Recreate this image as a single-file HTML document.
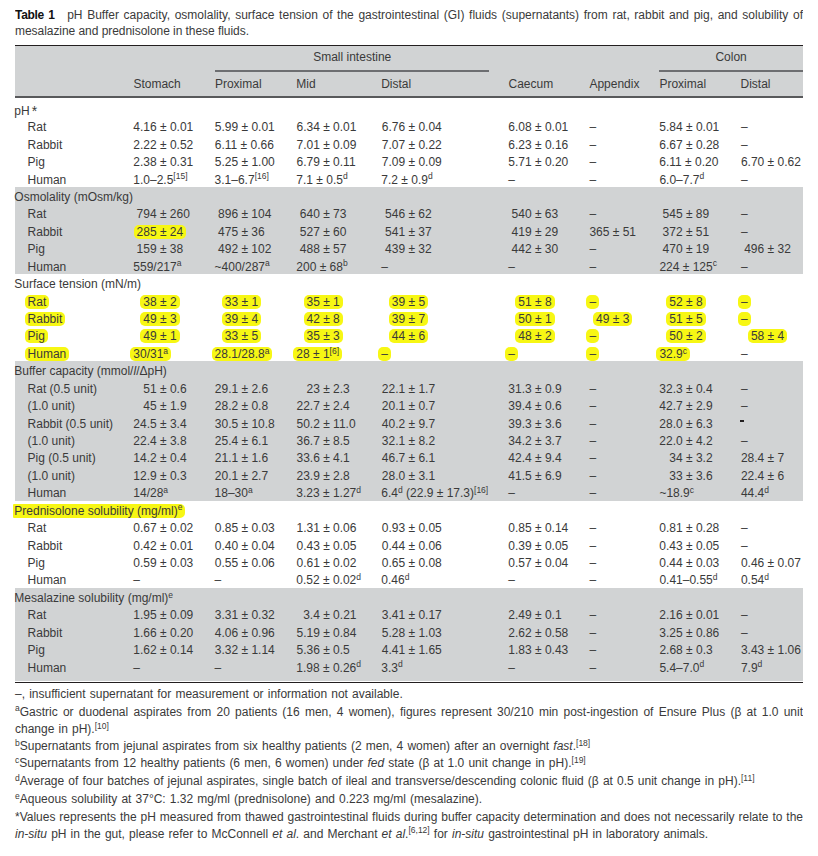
<!DOCTYPE html>
<html><head><meta charset="utf-8">
<style>
html,body{margin:0;padding:0;background:#fff;}
body{width:818px;height:856px;position:relative;overflow:hidden;font-family:"Liberation Sans",Arial,sans-serif;font-size:12px;color:#3a3a3a;}
.t,.ta{position:absolute;white-space:nowrap;line-height:14px;height:14px;}
.ta .pre{position:absolute;right:100%;white-space:pre;}
sup{font-size:8.5px;line-height:0;vertical-align:0;position:relative;top:-4.3px;}
.hl{background:#f7f714;border-radius:5px;padding:0 3px;margin:0 -3px;}
.band{position:absolute;left:15px;width:788px;background:#d1d3d4;}
.rule{position:absolute;}
.hy{position:absolute;width:4px;height:2px;background:#231f20;}
.fn{position:absolute;left:15px;white-space:nowrap;line-height:14px;height:14px;word-spacing:0.8px;}
.fn.j{word-spacing:0;}
.j{width:788px;height:14px;overflow:hidden;text-align:justify;text-align-last:justify;white-space:normal;}
.cap{position:absolute;left:15px;white-space:nowrap;line-height:14px;height:14px;}
b{font-weight:bold;color:#111;}
</style></head><body>
<div class="cap j" style="top:7.7px"><b style="letter-spacing:-0.3px">Table 1</b><span style="display:inline-block;width:12.5px"></span>pH Buffer capacity, osmolality, surface tension of the gastrointestinal (GI) fluids (supernatants) from rat, rabbit and pig, and solubility of</div>
<div class="cap" style="top:24.3px;letter-spacing:-0.05px">mesalazine and prednisolone in these fluids.</div>

<div class="band" style="top:46px;height:51px;"></div>
<div class="rule" style="left:15px;width:788px;top:45px;height:1.3px;background:#231f20"></div>
<div class="rule" style="left:214.7px;width:274.2px;top:70px;height:1.5px;background:#6d6e71"></div>
<div class="rule" style="left:659.4px;width:143.6px;top:70px;height:1.5px;background:#6d6e71"></div>
<div class="rule" style="left:15px;width:788px;top:96.2px;height:1.5px;background:#58595b"></div>

<div class="t" style="left:313.2px;top:49.8px">Small intestine</div>
<div class="t" style="left:715.4px;top:49.8px">Colon</div>
<div class="t" style="left:133.4px;top:76.7px">Stomach</div>
<div class="t" style="left:214.9px;top:76.7px">Proximal</div>
<div class="t" style="left:296.3px;top:76.7px">Mid</div>
<div class="t" style="left:381.2px;top:76.7px">Distal</div>
<div class="t" style="left:508.5px;top:76.7px">Caecum</div>
<div class="t" style="left:589.4px;top:76.7px">Appendix</div>
<div class="t" style="left:659.4px;top:76.7px">Proximal</div>
<div class="t" style="left:740.5px;top:76.7px">Distal</div>

<div class="band" style="top:187.3px;height:86.6px;"></div>
<div class="band" style="top:361.2px;height:139.4px;"></div>
<div class="band" style="top:588.1px;height:93.3px;"></div>
<div class="rule" style="left:15px;width:788px;top:681.8px;height:1.4px;background:#231f20"></div>

<div class="t" style="left:14.3px;top:102.8px">pH<span style="font-size:14px;margin-left:2px;position:relative;top:1px">*</span></div>
<div class="t" style="left:27.6px;top:120.2px">Rat</div>
<div class="t" style="left:133.3px;top:120.2px">4.16 ± 0.01</div>
<div class="t" style="left:214.8px;top:120.2px">5.99 ± 0.01</div>
<div class="t" style="left:296.5px;top:120.2px">6.34 ± 0.01</div>
<div class="t" style="left:381.8px;top:120.2px">6.76 ± 0.04</div>
<div class="t" style="left:508.3px;top:120.2px">6.08 ± 0.01</div>
<div class="t" style="left:589.4px;top:120.2px">–</div>
<div class="t" style="left:659.3px;top:120.2px">5.84 ± 0.01</div>
<div class="t" style="left:740.9px;top:120.2px">–</div>
<div class="t" style="left:27.6px;top:137.7px">Rabbit</div>
<div class="t" style="left:133.3px;top:137.7px">2.22 ± 0.52</div>
<div class="t" style="left:214.8px;top:137.7px">6.11 ± 0.66</div>
<div class="t" style="left:296.5px;top:137.7px">7.01 ± 0.09</div>
<div class="t" style="left:381.8px;top:137.7px">7.07 ± 0.22</div>
<div class="t" style="left:508.3px;top:137.7px">6.23 ± 0.16</div>
<div class="t" style="left:589.4px;top:137.7px">–</div>
<div class="t" style="left:659.3px;top:137.7px">6.67 ± 0.28</div>
<div class="t" style="left:740.9px;top:137.7px">–</div>
<div class="t" style="left:27.6px;top:155.1px">Pig</div>
<div class="t" style="left:133.3px;top:155.1px">2.38 ± 0.31</div>
<div class="t" style="left:214.8px;top:155.1px">5.25 ± 1.00</div>
<div class="t" style="left:296.5px;top:155.1px">6.79 ± 0.11</div>
<div class="t" style="left:381.8px;top:155.1px">7.09 ± 0.09</div>
<div class="t" style="left:508.3px;top:155.1px">5.71 ± 0.20</div>
<div class="t" style="left:589.4px;top:155.1px">–</div>
<div class="t" style="left:659.3px;top:155.1px">6.11 ± 0.20</div>
<div class="t" style="left:740.9px;top:155.1px">6.70 ± 0.62</div>
<div class="t" style="left:27.6px;top:172.5px">Human</div>
<div class="t" style="left:133.3px;top:172.5px">1.0–2.5<sup>[15]</sup></div>
<div class="t" style="left:214.6px;top:172.5px">3.1–6.7<sup>[16]</sup></div>
<div class="t" style="left:296.3px;top:172.5px">7.1 ± 0.5<sup>d</sup></div>
<div class="t" style="left:381.3px;top:172.5px">7.2 ± 0.9<sup>d</sup></div>
<div class="t" style="left:508.3px;top:172.5px">–</div>
<div class="t" style="left:589.4px;top:172.5px">–</div>
<div class="t" style="left:659.4px;top:172.5px">6.0–7.7<sup>d</sup></div>
<div class="t" style="left:740.9px;top:172.5px">–</div>
<div class="t" style="left:14.3px;top:189.9px">Osmolality (mOsm/kg)</div>
<div class="t" style="left:27.6px;top:207.4px">Rat</div>
<div class="t" style="left:136.6px;top:207.4px">794 ± 260</div>
<div class="t" style="left:218.1px;top:207.4px">896 ± 104</div>
<div class="t" style="left:299.8px;top:207.4px">640 ± 73</div>
<div class="t" style="left:385.1px;top:207.4px">546 ± 62</div>
<div class="t" style="left:511.6px;top:207.4px">540 ± 63</div>
<div class="t" style="left:589.4px;top:207.4px">–</div>
<div class="t" style="left:662.6px;top:207.4px">545 ± 89</div>
<div class="t" style="left:740.9px;top:207.4px">–</div>
<div class="t" style="left:27.6px;top:224.8px">Rabbit</div>
<div class="t" style="left:136.6px;top:224.8px"><span class="hl">285 ± 24</span></div>
<div class="t" style="left:218.1px;top:224.8px">475 ± 36</div>
<div class="t" style="left:299.8px;top:224.8px">527 ± 60</div>
<div class="t" style="left:385.1px;top:224.8px">541 ± 37</div>
<div class="t" style="left:511.6px;top:224.8px">419 ± 29</div>
<div class="t" style="left:589.4px;top:224.8px">365 ± 51</div>
<div class="t" style="left:662.6px;top:224.8px">372 ± 51</div>
<div class="t" style="left:740.9px;top:224.8px">–</div>
<div class="t" style="left:27.6px;top:242.2px">Pig</div>
<div class="t" style="left:136.6px;top:242.2px">159 ± 38</div>
<div class="t" style="left:218.1px;top:242.2px">492 ± 102</div>
<div class="t" style="left:299.8px;top:242.2px">488 ± 57</div>
<div class="t" style="left:385.1px;top:242.2px">439 ± 32</div>
<div class="t" style="left:511.6px;top:242.2px">442 ± 30</div>
<div class="t" style="left:589.4px;top:242.2px">–</div>
<div class="t" style="left:662.6px;top:242.2px">470 ± 19</div>
<div class="t" style="left:744.2px;top:242.2px">496 ± 32</div>
<div class="t" style="left:27.6px;top:259.7px">Human</div>
<div class="t" style="left:133.3px;top:259.7px">559/217<sup>a</sup></div>
<div class="t" style="left:214.6px;top:259.7px">~400/287<sup>a</sup></div>
<div class="t" style="left:296.3px;top:259.7px">200 ± 68<sup>b</sup></div>
<div class="t" style="left:381.3px;top:259.7px">–</div>
<div class="t" style="left:508.3px;top:259.7px">–</div>
<div class="t" style="left:589.4px;top:259.7px">–</div>
<div class="t" style="left:659.4px;top:259.7px">224 ± 125<sup>c</sup></div>
<div class="t" style="left:740.9px;top:259.7px">–</div>
<div class="t" style="left:14.3px;top:277.1px">Surface tension (mN/m)</div>
<div class="t" style="left:27.6px;top:294.5px"><span class="hl">Rat</span></div>
<div class="t" style="left:143.3px;top:294.5px"><span class="hl">38 ± 2</span></div>
<div class="t" style="left:224.8px;top:294.5px"><span class="hl">33 ± 1</span></div>
<div class="t" style="left:306.5px;top:294.5px"><span class="hl">35 ± 1</span></div>
<div class="t" style="left:391.8px;top:294.5px"><span class="hl">39 ± 5</span></div>
<div class="t" style="left:518.3px;top:294.5px"><span class="hl">51 ± 8</span></div>
<div class="t" style="left:589.4px;top:294.5px"><span class="hl">–</span></div>
<div class="t" style="left:669.3px;top:294.5px"><span class="hl">52 ± 8</span></div>
<div class="t" style="left:740.9px;top:294.5px"><span class="hl">–</span></div>
<div class="t" style="left:27.6px;top:312.0px"><span class="hl">Rabbit</span></div>
<div class="t" style="left:143.3px;top:312.0px"><span class="hl">49 ± 3</span></div>
<div class="t" style="left:224.8px;top:312.0px"><span class="hl">39 ± 4</span></div>
<div class="t" style="left:306.5px;top:312.0px"><span class="hl">42 ± 8</span></div>
<div class="t" style="left:391.8px;top:312.0px"><span class="hl">39 ± 7</span></div>
<div class="t" style="left:518.3px;top:312.0px"><span class="hl">50 ± 1</span></div>
<div class="t" style="left:596.1px;top:312.0px"><span class="hl">49 ± 3</span></div>
<div class="t" style="left:669.3px;top:312.0px"><span class="hl">51 ± 5</span></div>
<div class="t" style="left:740.9px;top:312.0px"><span class="hl">–</span></div>
<div class="t" style="left:27.6px;top:329.4px"><span class="hl">Pig</span></div>
<div class="t" style="left:143.3px;top:329.4px"><span class="hl">49 ± 1</span></div>
<div class="t" style="left:224.8px;top:329.4px"><span class="hl">33 ± 5</span></div>
<div class="t" style="left:306.5px;top:329.4px"><span class="hl">35 ± 3</span></div>
<div class="t" style="left:391.8px;top:329.4px"><span class="hl">44 ± 6</span></div>
<div class="t" style="left:518.3px;top:329.4px"><span class="hl">48 ± 2</span></div>
<div class="t" style="left:589.4px;top:329.4px"><span class="hl">–</span></div>
<div class="t" style="left:669.3px;top:329.4px"><span class="hl">50 ± 2</span></div>
<div class="t" style="left:750.9px;top:329.4px"><span class="hl">58 ± 4</span></div>
<div class="t" style="left:27.6px;top:346.8px"><span class="hl">Human</span></div>
<div class="t" style="left:133.3px;top:346.8px"><span class="hl">30/31<sup>a</sup></span></div>
<div class="t" style="left:214.6px;top:346.8px"><span class="hl">28.1/28.8<sup>a</sup></span></div>
<div class="t" style="left:296.3px;top:346.8px"><span class="hl">28 ± 1<sup>[6]</sup></span></div>
<div class="t" style="left:381.3px;top:346.8px"><span class="hl">–</span></div>
<div class="t" style="left:508.3px;top:346.8px"><span class="hl">–</span></div>
<div class="t" style="left:589.4px;top:346.8px"><span class="hl">–</span></div>
<div class="t" style="left:659.4px;top:346.8px"><span class="hl">32.9<sup>c</sup></span></div>
<div class="t" style="left:740.9px;top:346.8px">–</div>
<div class="t" style="left:14.3px;top:364.2px">Buffer capacity (mmol/<i>l</i>/ΔpH)</div>
<div class="t" style="left:27.6px;top:381.7px">Rat (0.5 unit)</div>
<div class="t" style="left:143.3px;top:381.7px">51 ± 0.6</div>
<div class="t" style="left:214.8px;top:381.7px">29.1 ± 2.6</div>
<div class="t" style="left:306.5px;top:381.7px">23 ± 2.3</div>
<div class="t" style="left:381.8px;top:381.7px">22.1 ± 1.7</div>
<div class="t" style="left:508.3px;top:381.7px">31.3 ± 0.9</div>
<div class="t" style="left:589.4px;top:381.7px">–</div>
<div class="t" style="left:659.3px;top:381.7px">32.3 ± 0.4</div>
<div class="t" style="left:740.9px;top:381.7px">–</div>
<div class="t" style="left:27.6px;top:399.1px">(1.0 unit)</div>
<div class="t" style="left:143.3px;top:399.1px">45 ± 1.9</div>
<div class="t" style="left:214.8px;top:399.1px">28.2 ± 0.8</div>
<div class="t" style="left:296.5px;top:399.1px">22.7 ± 2.4</div>
<div class="t" style="left:381.8px;top:399.1px">20.1 ± 0.7</div>
<div class="t" style="left:508.3px;top:399.1px">39.4 ± 0.6</div>
<div class="t" style="left:589.4px;top:399.1px">–</div>
<div class="t" style="left:659.3px;top:399.1px">42.7 ± 2.9</div>
<div class="t" style="left:740.9px;top:399.1px">–</div>
<div class="t" style="left:27.6px;top:416.5px">Rabbit (0.5 unit)</div>
<div class="t" style="left:133.3px;top:416.5px">24.5 ± 3.4</div>
<div class="t" style="left:214.8px;top:416.5px">30.5 ± 10.8</div>
<div class="t" style="left:296.5px;top:416.5px">50.2 ± 11.0</div>
<div class="t" style="left:381.8px;top:416.5px">40.2 ± 9.7</div>
<div class="t" style="left:508.3px;top:416.5px">39.3 ± 3.6</div>
<div class="t" style="left:589.4px;top:416.5px">–</div>
<div class="t" style="left:659.3px;top:416.5px">28.0 ± 6.3</div>
<div class="hy" style="left:740.0px;top:420.0px"></div>
<div class="t" style="left:27.6px;top:434.0px">(1.0 unit)</div>
<div class="t" style="left:133.3px;top:434.0px">22.4 ± 3.8</div>
<div class="t" style="left:214.8px;top:434.0px">25.4 ± 6.1</div>
<div class="t" style="left:296.5px;top:434.0px">36.7 ± 8.5</div>
<div class="t" style="left:381.8px;top:434.0px">32.1 ± 8.2</div>
<div class="t" style="left:508.3px;top:434.0px">34.2 ± 3.7</div>
<div class="t" style="left:589.4px;top:434.0px">–</div>
<div class="t" style="left:659.3px;top:434.0px">22.0 ± 4.2</div>
<div class="t" style="left:740.9px;top:434.0px">–</div>
<div class="t" style="left:27.6px;top:451.4px">Pig (0.5 unit)</div>
<div class="t" style="left:133.3px;top:451.4px">14.2 ± 0.4</div>
<div class="t" style="left:214.8px;top:451.4px">21.1 ± 1.6</div>
<div class="t" style="left:296.5px;top:451.4px">33.6 ± 4.1</div>
<div class="t" style="left:381.8px;top:451.4px">46.7 ± 6.1</div>
<div class="t" style="left:508.3px;top:451.4px">42.4 ± 9.4</div>
<div class="t" style="left:589.4px;top:451.4px">–</div>
<div class="t" style="left:669.3px;top:451.4px">34 ± 3.2</div>
<div class="t" style="left:740.9px;top:451.4px">28.4 ± 7</div>
<div class="t" style="left:27.6px;top:468.8px">(1.0 unit)</div>
<div class="t" style="left:133.3px;top:468.8px">12.9 ± 0.3</div>
<div class="t" style="left:214.8px;top:468.8px">20.1 ± 2.7</div>
<div class="t" style="left:296.5px;top:468.8px">23.9 ± 2.8</div>
<div class="t" style="left:381.8px;top:468.8px">28.0 ± 3.1</div>
<div class="t" style="left:508.3px;top:468.8px">41.5 ± 6.9</div>
<div class="t" style="left:589.4px;top:468.8px">–</div>
<div class="t" style="left:669.3px;top:468.8px">33 ± 3.6</div>
<div class="t" style="left:740.9px;top:468.8px">22.4 ± 6</div>
<div class="t" style="left:27.6px;top:486.3px">Human</div>
<div class="t" style="left:133.3px;top:486.3px">14/28<sup>a</sup></div>
<div class="t" style="left:214.6px;top:486.3px">18–30<sup>a</sup></div>
<div class="t" style="left:296.3px;top:486.3px">3.23 ± 1.27<sup>d</sup></div>
<div class="t" style="left:381.3px;top:486.3px">6.4<sup>d</sup> (22.9 ± 17.3)<sup>[16]</sup></div>
<div class="t" style="left:508.3px;top:486.3px">–</div>
<div class="t" style="left:589.4px;top:486.3px">–</div>
<div class="t" style="left:659.4px;top:486.3px">~18.9<sup>c</sup></div>
<div class="t" style="left:740.9px;top:486.3px">44.4<sup>d</sup></div>
<div class="t" style="left:14.3px;top:503.7px"><span class="hl" style="padding-left:1.2px;margin-left:-1.2px;border-radius:1px 5px 5px 1px">Prednisolone solubility (mg/ml)<sup>e</sup></span></div>
<div class="t" style="left:27.6px;top:521.1px">Rat</div>
<div class="t" style="left:133.3px;top:521.1px">0.67 ± 0.02</div>
<div class="t" style="left:214.8px;top:521.1px">0.85 ± 0.03</div>
<div class="t" style="left:296.5px;top:521.1px">1.31 ± 0.06</div>
<div class="t" style="left:381.8px;top:521.1px">0.93 ± 0.05</div>
<div class="t" style="left:508.3px;top:521.1px">0.85 ± 0.14</div>
<div class="t" style="left:589.4px;top:521.1px">–</div>
<div class="t" style="left:659.3px;top:521.1px">0.81 ± 0.28</div>
<div class="t" style="left:740.9px;top:521.1px">–</div>
<div class="t" style="left:27.6px;top:538.5px">Rabbit</div>
<div class="t" style="left:133.3px;top:538.5px">0.42 ± 0.01</div>
<div class="t" style="left:214.8px;top:538.5px">0.40 ± 0.04</div>
<div class="t" style="left:296.5px;top:538.5px">0.43 ± 0.05</div>
<div class="t" style="left:381.8px;top:538.5px">0.44 ± 0.06</div>
<div class="t" style="left:508.3px;top:538.5px">0.39 ± 0.05</div>
<div class="t" style="left:589.4px;top:538.5px">–</div>
<div class="t" style="left:659.3px;top:538.5px">0.43 ± 0.05</div>
<div class="t" style="left:740.9px;top:538.5px">–</div>
<div class="t" style="left:27.6px;top:556.0px">Pig</div>
<div class="t" style="left:133.3px;top:556.0px">0.59 ± 0.03</div>
<div class="t" style="left:214.8px;top:556.0px">0.55 ± 0.06</div>
<div class="t" style="left:296.5px;top:556.0px">0.61 ± 0.02</div>
<div class="t" style="left:381.8px;top:556.0px">0.65 ± 0.08</div>
<div class="t" style="left:508.3px;top:556.0px">0.57 ± 0.04</div>
<div class="t" style="left:589.4px;top:556.0px">–</div>
<div class="t" style="left:659.3px;top:556.0px">0.44 ± 0.03</div>
<div class="t" style="left:740.9px;top:556.0px">0.46 ± 0.07</div>
<div class="t" style="left:27.6px;top:573.4px">Human</div>
<div class="t" style="left:133.3px;top:573.4px">–</div>
<div class="t" style="left:214.6px;top:573.4px">–</div>
<div class="t" style="left:296.3px;top:573.4px">0.52 ± 0.02<sup>d</sup></div>
<div class="t" style="left:381.3px;top:573.4px">0.46<sup>d</sup></div>
<div class="t" style="left:508.3px;top:573.4px">–</div>
<div class="t" style="left:589.4px;top:573.4px">–</div>
<div class="t" style="left:659.4px;top:573.4px">0.41–0.55<sup>d</sup></div>
<div class="t" style="left:740.9px;top:573.4px">0.54<sup>d</sup></div>
<div class="t" style="left:14.3px;top:590.8px">Mesalazine solubility (mg/ml)<sup>e</sup></div>
<div class="t" style="left:27.6px;top:608.3px">Rat</div>
<div class="t" style="left:133.3px;top:608.3px">1.95 ± 0.09</div>
<div class="t" style="left:214.8px;top:608.3px">3.31 ± 0.32</div>
<div class="t" style="left:303.2px;top:608.3px">3.4 ± 0.21</div>
<div class="t" style="left:381.8px;top:608.3px">3.41 ± 0.17</div>
<div class="t" style="left:508.3px;top:608.3px">2.49 ± 0.1</div>
<div class="t" style="left:589.4px;top:608.3px">–</div>
<div class="t" style="left:659.3px;top:608.3px">2.16 ± 0.01</div>
<div class="t" style="left:740.9px;top:608.3px">–</div>
<div class="t" style="left:27.6px;top:625.7px">Rabbit</div>
<div class="t" style="left:133.3px;top:625.7px">1.66 ± 0.20</div>
<div class="t" style="left:214.8px;top:625.7px">4.06 ± 0.96</div>
<div class="t" style="left:296.5px;top:625.7px">5.19 ± 0.84</div>
<div class="t" style="left:381.8px;top:625.7px">5.28 ± 1.03</div>
<div class="t" style="left:508.3px;top:625.7px">2.62 ± 0.58</div>
<div class="t" style="left:589.4px;top:625.7px">–</div>
<div class="t" style="left:659.3px;top:625.7px">3.25 ± 0.86</div>
<div class="t" style="left:740.9px;top:625.7px">–</div>
<div class="t" style="left:27.6px;top:643.1px">Pig</div>
<div class="t" style="left:133.3px;top:643.1px">1.62 ± 0.14</div>
<div class="t" style="left:214.8px;top:643.1px">3.32 ± 1.14</div>
<div class="t" style="left:296.5px;top:643.1px">5.36 ± 0.5</div>
<div class="t" style="left:381.8px;top:643.1px">4.41 ± 1.65</div>
<div class="t" style="left:508.3px;top:643.1px">1.83 ± 0.43</div>
<div class="t" style="left:589.4px;top:643.1px">–</div>
<div class="t" style="left:659.4px;top:643.1px">2.68 ± 0.3</div>
<div class="t" style="left:740.9px;top:643.1px">3.43 ± 1.06</div>
<div class="t" style="left:27.6px;top:660.6px">Human</div>
<div class="t" style="left:133.3px;top:660.6px">–</div>
<div class="t" style="left:214.6px;top:660.6px">–</div>
<div class="t" style="left:296.3px;top:660.6px">1.98 ± 0.26<sup>d</sup></div>
<div class="t" style="left:381.3px;top:660.6px">3.3<sup>d</sup></div>
<div class="t" style="left:508.3px;top:660.6px">–</div>
<div class="t" style="left:589.4px;top:660.6px">–</div>
<div class="t" style="left:659.4px;top:660.6px">5.4–7.0<sup>d</sup></div>
<div class="t" style="left:740.9px;top:660.6px">7.9<sup>d</sup></div>

<div class="fn" style="top:686.9px">–, insufficient supernatant for measurement or information not available.</div>
<div class="fn j" style="top:704.5px"><sup>a</sup>Gastric or duodenal aspirates from 20 patients (16 men, 4 women), figures represent 30/210 min post-ingestion of Ensure Plus (β at 1.0 unit</div>
<div class="fn" style="top:721.9px">change in pH).<sup>[10]</sup></div>
<div class="fn" style="top:739.1px"><sup>b</sup>Supernatants from jejunal aspirates from six healthy patients (2 men, 4 women) after an overnight <i>fast</i>.<sup>[18]</sup></div>
<div class="fn" style="top:756.4px"><sup>c</sup>Supernatants from 12 healthy patients (6 men, 6 women) under <i>fed</i> state (β at 1.0 unit change in pH).<sup>[19]</sup></div>
<div class="fn" style="top:774.3px"><sup>d</sup>Average of four batches of jejunal aspirates, single batch of ileal and transverse/descending colonic fluid (β at 0.5 unit change in pH).<sup>[11]</sup></div>
<div class="fn" style="top:791.8px"><sup>e</sup>Aqueous solubility at 37°C: 1.32 mg/ml (prednisolone) and 0.223 mg/ml (mesalazine).</div>
<div class="fn j" style="top:809.6px">*Values represents the pH measured from thawed gastrointestinal fluids during buffer capacity determination and does not necessarily relate to the</div>
<div class="fn" style="top:826.7px"><i>in-situ</i> pH in the gut, please refer to McConnell <i>et al</i>. and Merchant <i>et al</i>.<sup>[6,12]</sup> for <i>in-situ</i> gastrointestinal pH in laboratory animals.</div>
</body></html>
